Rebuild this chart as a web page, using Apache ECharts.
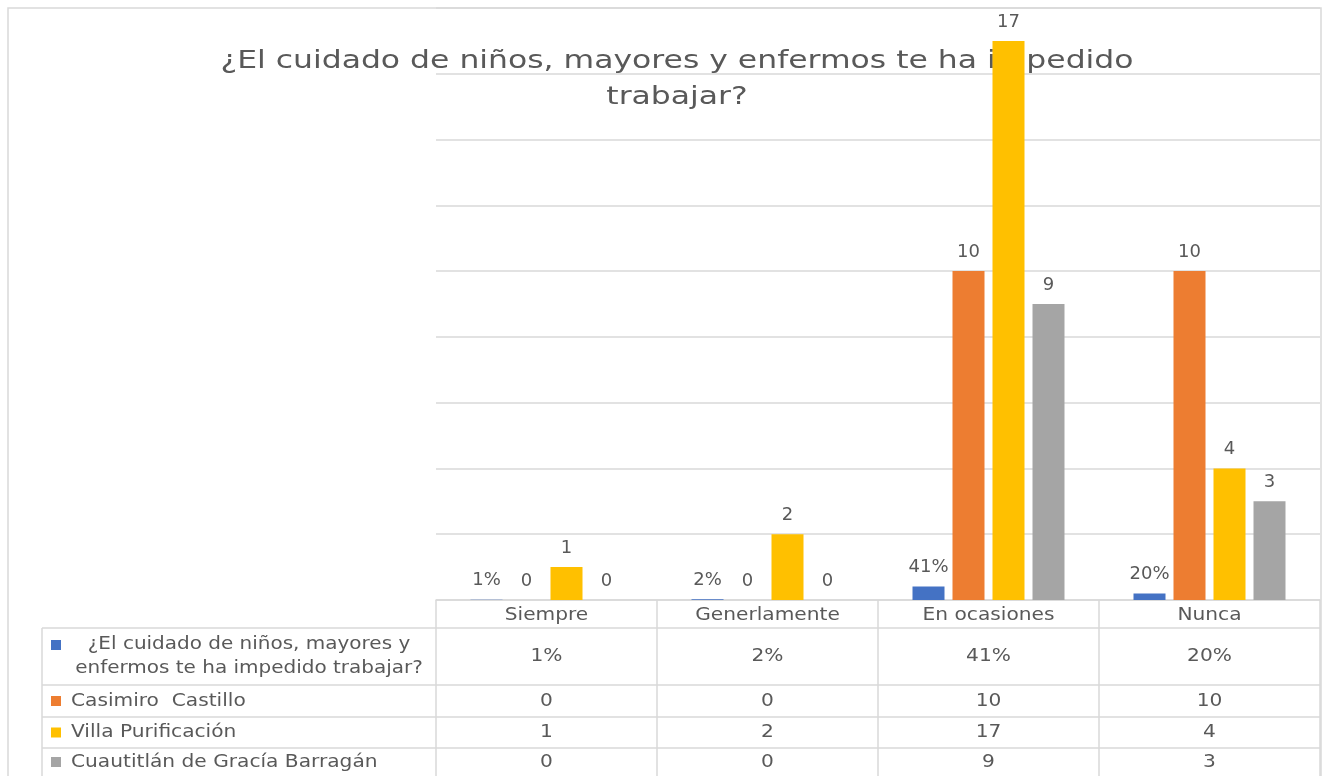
<!DOCTYPE html>
<html>
<head>
<meta charset="utf-8">
<script src="https://cdn.jsdelivr.net/npm/echarts@6/dist/echarts.min.js"></script>
<style>
html,body{margin:0;padding:0;background:#fff}
#main{width:1323px;height:776px}
</style>
</head>
<body>
<div id="main"></div>
<script>
// datos de la encuesta
var categorias = ['Siempre', 'Generlamente', 'En ocasiones', 'Nunca'];
var nombres = [
  '¿El cuidado de niños, mayores y enfermos te ha impedido trabajar?',
  'Casimiro  Castillo',
  'Villa Purificación',
  'Cuautitlán de Gracía Barragán'
];
var porcentaje = [0.01, 0.02, 0.41, 0.20];
var casimiro = [0, 0, 10, 10];
var villa = [1, 2, 17, 4];
var cuautitlan = [0, 0, 9, 3];
var colores = ['#4472C4', '#ED7D31', '#FFC000', '#A5A5A5'];

var gris = '#595959';
var linea = '#d9d9d9';
var fuente = 'DejaVu Sans';
var tam = 18;
var estira = 1.12; // el original tiene el texto algo ensanchado

function pct(v) { return Math.round(v * 100) + '%'; }

var myChart = echarts.init(document.getElementById('main'));

var valores = [porcentaje, casimiro, villa, cuautitlan];
var series = [];
for (var s = 0; s < valores.length; s++) {
  series.push({
    name: nombres[s],
    type: 'bar',
    data: valores[s],
    barWidth: 32,
    barGap: '25%',
    z: 3,
    itemStyle: { color: colores[s] },
    label: {
      show: true,
      position: 'top',
      distance: 10,
      color: gris,
      fontFamily: fuente,
      fontSize: tam,
      formatter: s === 0 ? function (p) { return pct(p.value); } : '{c}'
    }
  });
}

var option = {
  animation: false,
  backgroundColor: '#fff',
  grid: { left: 436, right: 3, top: 8, bottom: 176 },
  xAxis: {
    type: 'category',
    data: categorias,
    axisLine: { show: true, lineStyle: { color: linea, width: 1.5 } },
    axisTick: { show: true, length: 176, lineStyle: { color: linea, width: 1.5 } },
    axisLabel: { show: false }
  },
  yAxis: {
    type: 'value',
    min: 0,
    max: 18,
    interval: 2,
    axisLabel: { show: false },
    axisLine: { show: false },
    axisTick: { show: false },
    splitLine: { lineStyle: { color: linea, width: 1.5 } }
  },
  series: series
};
myChart.setOption(option);

// tabla de datos debajo del grafico
var filas = [600, 628, 685, 717, 748, 776];
var c0 = myChart.convertToPixel({ xAxisIndex: 0 }, 0);
var c1 = myChart.convertToPixel({ xAxisIndex: 0 }, 1);
var banda = c1 - c0;
var derecha = c0 + banda * (categorias.length - 0.5);
var letra = tam + 'px "' + fuente + '"';
var graficos = [];

function texto(txt, x, y, align, sx, extra) {
  var st = { text: txt, fill: gris, font: letra, align: align, verticalAlign: 'middle' };
  if (extra) { for (var k in extra) st[k] = extra[k]; }
  return { type: 'text', x: x, y: y, scaleX: sx, style: st, silent: true };
}

// marco exterior
graficos.push({
  type: 'rect', shape: { x: 8, y: 8, width: 1313, height: 800 },
  style: { fill: null, stroke: linea, lineWidth: 1.5 }, z: 0, silent: true
});

// titulo (debajo de las barras)
graficos.push(texto(
  '¿El cuidado de niños, mayores y enfermos te ha impedido\ntrabajar?',
  677, 80, 'center', 1.31,
  { font: '24px "' + fuente + '"', lineHeight: 36 }
));

// encabezado de categorias
for (var i = 0; i < categorias.length; i++) {
  var xc = myChart.convertToPixel({ xAxisIndex: 0 }, i);
  graficos.push(texto(categorias[i], xc, (filas[0] + filas[1]) / 2 + 1, 'center', estira));
}

for (var r = 1; r < filas.length - 1; r++) {
  graficos.push({
    type: 'line', shape: { x1: 42, y1: filas[r], x2: derecha, y2: filas[r] },
    style: { stroke: linea, lineWidth: 1.5 }, silent: true
  });
}
graficos.push({
  type: 'line', shape: { x1: 42, y1: filas[1], x2: 42, y2: 776 },
  style: { stroke: linea, lineWidth: 1.5 }, silent: true
});

for (var r = 0; r < valores.length; r++) {
  var yc = (filas[r + 1] + filas[r + 2]) / 2;
  var yk = r === 0 ? 645 : yc;
  graficos.push({
    type: 'rect', shape: { x: 51, y: yk - 5, width: 10, height: 10 },
    style: { fill: colores[r] }, silent: true
  });
  if (r === 0) {
    graficos.push(texto('¿El cuidado de niños, mayores y\nenfermos te ha impedido trabajar?',
      249, yc, 'center', 1.11, { lineHeight: 24 }));
  } else {
    graficos.push(texto(nombres[r], 71, yc, 'left', estira));
  }
  for (var i = 0; i < categorias.length; i++) {
    var xc = myChart.convertToPixel({ xAxisIndex: 0 }, i);
    var v = valores[r][i];
    graficos.push(texto(r === 0 ? pct(v) : String(v), xc, yc, 'center', estira));
  }
}

myChart.setOption({ graphic: graficos });
</script>
</body>
</html>
